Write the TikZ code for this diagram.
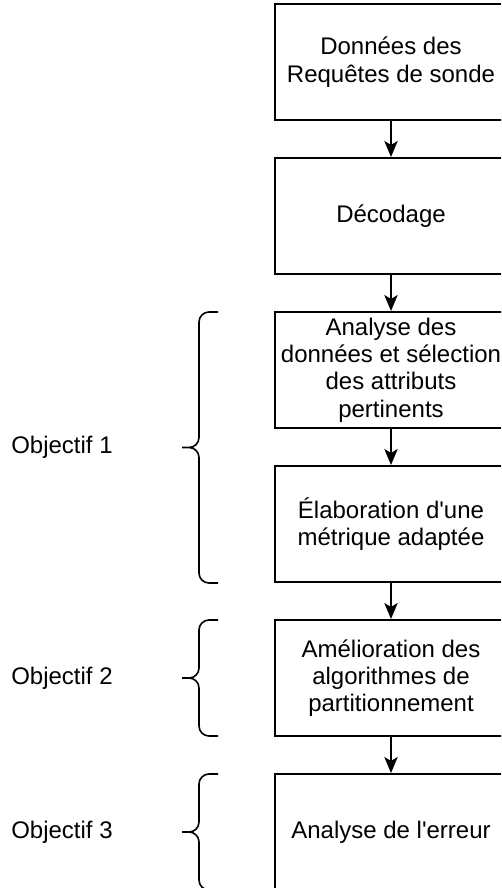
\documentclass[tikz,border=0pt]{standalone}
\usepackage{fontspec}
\setmainfont{Liberation Sans}
\usetikzlibrary{arrows.meta, positioning}

\begin{document}
\begin{tikzpicture}[x=0.75pt, y=-0.75pt, line width=1.5pt, node distance=27pt,
        etape/.style={draw, rectangle, minimum width=174pt, minimum height=87pt, align=center, font=\fontsize{18}{20.5}\selectfont},
        objectif/.style={font=\fontsize{18}{20.5}\selectfont},
        accolade/.style={rounded corners=7.5pt, line width=1.2pt},
        fleche/.style={-{Stealth[length=12pt, width=10pt, inset=3pt]}}]
        \useasboundingbox (0,0) rectangle (501,888);
        \clip (0,0) rectangle (501,888);

        % Etapes
        \node (donnees) [etape] at (391,62) {Données des\\Requêtes de sonde};
        \node (decodage) [etape, below=of donnees] {Décodage};
        \node (analyse) [etape, below=of decodage] {Analyse des\\données et sélection\\des attributs\\pertinents};
        \node (metrique) [etape, below=of analyse] {Élaboration d\textquotesingle une\\métrique adaptée};
        \node (algos) [etape, below=of metrique] {Amélioration des\\algorithmes de\\partitionnement};
        \node (erreur) [etape, below=of algos] {Analyse de l\textquotesingle erreur};

        % Objectifs
        \node (obj1) [objectif] at (62,447.5) {Objectif 1};
        \node (obj2) [objectif] at (62,678) {Objectif 2};
        \node (obj3) [objectif] at (62,832) {Objectif 3};

        % Accolades
        \draw[accolade] (218,312) -- (199,312) -- (199,447.5) -- (182,447.5)
                        (182,447.5) -- (199,447.5) -- (199,583) -- (218,583);
        \draw[accolade] (218,620) -- (199,620) -- (199,678) -- (182,678)
                        (182,678) -- (199,678) -- (199,736) -- (218,736);
        \draw[accolade] (218,774) -- (199,774) -- (199,832) -- (182,832)
                        (182,832) -- (199,832) -- (199,890) -- (218,890);

        % Fleches
        \draw[fleche] (donnees) -- (decodage);
        \draw[fleche] (decodage) -- (analyse);
        \draw[fleche] (analyse) -- (metrique);
        \draw[fleche] (metrique) -- (algos);
        \draw[fleche] (algos) -- (erreur);
\end{tikzpicture}
\end{document}
